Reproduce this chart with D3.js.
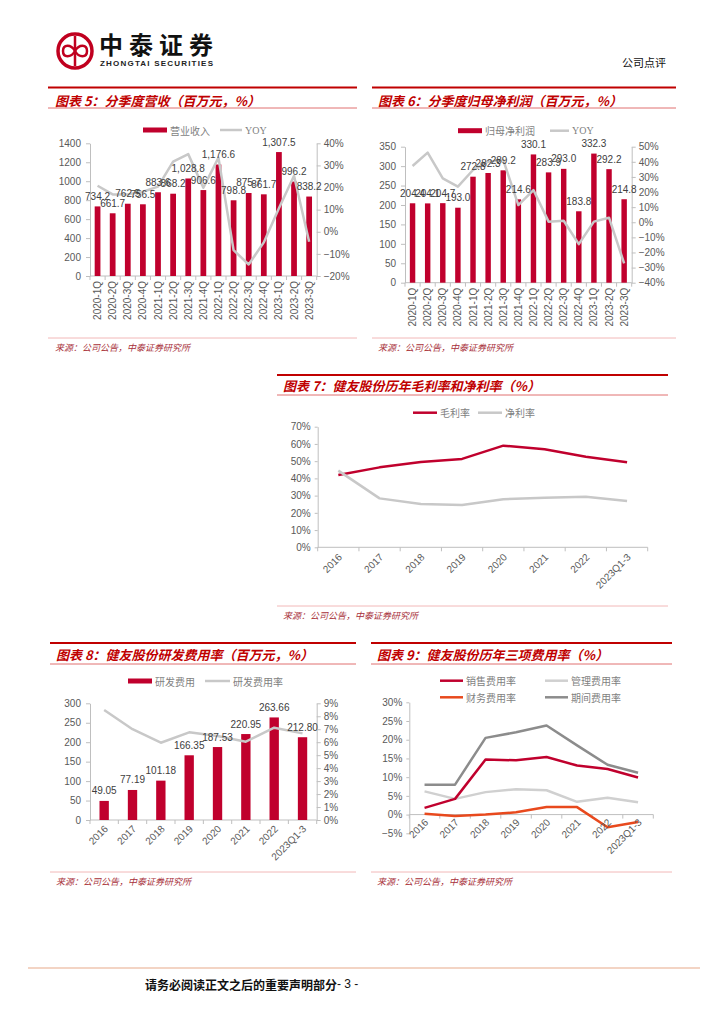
<!DOCTYPE html>
<html><head><meta charset="utf-8">
<script src="https://cdn.jsdelivr.net/npm/d3@7"></script>
<style>body{margin:0;background:#fff}svg{display:block}</style>
</head><body>
<svg id="page" width="724" height="1024"></svg>
<script>
// ---------------- data ----------------
const quarters = ["2020-1Q","2020-2Q","2020-3Q","2020-4Q","2021-1Q","2021-2Q","2021-3Q","2021-4Q","2022-1Q","2022-2Q","2022-3Q","2022-4Q","2023-1Q","2023-2Q","2023-3Q"];
const revenue = [734.2, 661.7, 762.5, 756.5, 883.6, 868.2, 1028.8, 906.6, 1176.6, 798.8, 875.7, 861.7, 1307.5, 996.2, 838.2];
const revenueYoy = [0.208, 0.169, 0.169, 0.181, 0.204, 0.317, 0.351, 0.199, 0.335, -0.083, -0.148, -0.048, 0.106, 0.253, -0.045];
const netProfit = [204.4, 204.1, 204.7, 193.0, 272.8, 282.3, 289.2, 214.6, 330.1, 283.9, 293.0, 183.8, 332.3, 292.2, 214.8];
const netProfitYoy = [0.372, 0.461, 0.291, 0.236, 0.346, 0.401, 0.412, 0.114, 0.213, 0.004, 0.010, -0.145, 0.004, 0.030, -0.272];
const years = ["2016","2017","2018","2019","2020","2021","2022","2023Q1-3"];
const grossMargin = [0.420, 0.464, 0.495, 0.513, 0.590, 0.569, 0.526, 0.493];
const netMargin = [0.445, 0.284, 0.251, 0.246, 0.279, 0.288, 0.294, 0.269];
const rdExpense = [49.05, 77.19, 101.18, 166.35, 187.53, 220.95, 263.66, 212.80];
const rdRate = [0.0848, 0.0700, 0.0596, 0.0676, 0.0648, 0.0604, 0.0712, 0.0668];
const sellingRate = [0.018, 0.042, 0.147, 0.145, 0.154, 0.131, 0.122, 0.099];
const adminRate = [0.062, 0.042, 0.060, 0.068, 0.065, 0.034, 0.045, 0.033];
const financeRate = [0.002, -0.004, 0.000, 0.006, 0.020, 0.020, -0.034, -0.020];
const periodRate = [0.080, 0.080, 0.205, 0.220, 0.238, 0.185, 0.133, 0.112];

// ---------------- styles ----------------
const RED = "#C0002D", TITLE_RED = "#C00000", GRAY = "#C8C8C8", DGRAY = "#8C8C8C", ORANGE = "#E8491D";
const AXIS = "#BFBFBF", TXT = "#595959";
const NUMFONT = "'Liberation Sans', Arial, sans-serif";
const CJK = "'Noto Sans CJK SC', sans-serif";
const svg = d3.select("#page");

function txt(g, x, y, s, o = {}) {
  return g.append("text").attr("x", x).attr("y", y).text(s)
    .attr("dominant-baseline", "central")
    .attr("font-family", o.family || CJK)
    .attr("font-size", o.size || 10)
    .attr("font-weight", o.weight || "normal")
    .attr("font-style", o.style || "normal")
    .attr("fill", o.fill || TXT)
    .attr("text-anchor", o.anchor || "start");
}

function frame(p) {
  svg.append("line").attr("x1", p.lx0).attr("x2", p.lx1).attr("y1", p.top).attr("y2", p.top)
    .attr("stroke", TITLE_RED).attr("stroke-width", 2);
  txt(svg, p.tx, p.titleY, p.title, {size: 13, weight: "bold", style: "italic", fill: TITLE_RED});
  svg.append("line").attr("x1", p.lx0).attr("x2", p.lx1).attr("y1", p.under).attr("y2", p.under)
    .attr("stroke", "#E07070").attr("stroke-width", 1);
  svg.append("line").attr("x1", p.lx0).attr("x2", p.lx1).attr("y1", p.srcY - 9).attr("y2", p.srcY - 9)
    .attr("stroke", "#F2B8B8").attr("stroke-width", 1);
  txt(svg, p.tx, p.srcY, "来源：公司公告，中泰证券研究所", {size: 9, style: "italic", fill: "#A8303A"});
}

function styleAxis(g) {
  g.selectAll(".domain").attr("stroke", AXIS);
  g.selectAll(".tick line").attr("stroke", AXIS);
  g.selectAll(".tick text").attr("fill", TXT).attr("font-family", NUMFONT).attr("font-size", 10);
}

function legendRect(x, y, label) {
  svg.append("rect").attr("x", x).attr("y", y - 2.5).attr("width", 24).attr("height", 5).attr("fill", RED);
  txt(svg, x + 27, y, label, {size: 10, fill: "#7F7F7F"});
}
function legendLine(x, y, color, label, w = 23) {
  svg.append("line").attr("x1", x).attr("x2", x + w).attr("y1", y).attr("y2", y)
    .attr("stroke", color).attr("stroke-width", 2.5);
  txt(svg, x + w + 3, y, label, {size: 10, fill: "#7F7F7F", family: label === "YOY" ? "'Liberation Serif', serif" : CJK});
}

function barLine(c) {
  const g = svg.append("g");
  const xb = d3.scaleBand().domain(c.cats).range([c.x0, c.x1]).padding(0);
  const yL = d3.scaleLinear().domain([0, c.leftMax]).range([c.yBot, c.yTop]);
  const yR = d3.scaleLinear().domain([c.rMin, c.rMax]).range([c.yBot, c.yTop]);
  const bw = xb.bandwidth() * c.barFrac;
  const cx = d => xb(d) + xb.bandwidth() / 2;

  const aL = g.append("g").attr("transform", `translate(${c.x0},0)`)
    .call(d3.axisLeft(yL).tickValues(d3.range(0, c.leftMax + 1e-9, c.leftStep)).tickFormat(d3.format("d")).tickSize(4).tickPadding(5).tickSizeOuter(0));
  styleAxis(aL);
  const aR = g.append("g").attr("transform", `translate(${c.x1},0)`)
    .call(d3.axisRight(yR).tickValues(d3.range(c.rMin, c.rMax + 1e-9, c.rStep)).tickFormat(c.rFmt).tickSize(4).tickPadding(3).tickSizeOuter(0));
  styleAxis(aR);
  // bottom axis
  g.append("line").attr("x1", c.x0).attr("x2", c.x1).attr("y1", c.yBot).attr("y2", c.yBot).attr("stroke", AXIS);
  g.selectAll(".bt").data(c.cats.concat(["__end"])).enter().append("line")
    .attr("x1", (d, i) => i < c.cats.length ? xb(d) : c.x1)
    .attr("x2", (d, i) => i < c.cats.length ? xb(d) : c.x1)
    .attr("y1", c.yBot).attr("y2", c.yBot + 4).attr("stroke", AXIS);

  g.selectAll(".bar").data(c.bars).enter().append("rect")
    .attr("x", (d, i) => cx(c.cats[i]) - bw / 2).attr("width", bw)
    .attr("y", d => yL(d)).attr("height", d => c.yBot - yL(d)).attr("fill", RED);

  g.append("path").datum(c.line)
    .attr("d", d3.line().x((d, i) => cx(c.cats[i])).y(d => yR(d)))
    .attr("fill", "none").attr("stroke", GRAY).attr("stroke-width", 2.5).attr("stroke-linejoin", "round");

  c.bars.forEach((v, i) => {
    txt(g, cx(c.cats[i]), yL(v) - 10, d3.format(c.barFmt)(v), {family: NUMFONT, size: 10, fill: "#404040", anchor: "middle"});
  });

  c.cats.forEach(d => {
    const t = txt(g, 0, 0, d, {family: NUMFONT, size: 10, anchor: "end"});
    if (c.rot === -90) t.attr("transform", `translate(${cx(d)},${c.yBot + 5}) rotate(-90)`);
    else t.attr("transform", `translate(${cx(d) + 2},${c.yBot + 7}) rotate(-45)`);
  });
}

function lineChart(c) {
  const g = svg.append("g");
  const xb = d3.scaleBand().domain(c.cats).range([c.x0, c.x1]).padding(0);
  const y = d3.scaleLinear().domain([c.yMin, c.yMax]).range([c.yBot, c.yTop]);
  const cx = d => xb(d) + xb.bandwidth() / 2;
  const aY = g.append("g").attr("transform", `translate(${c.x0},0)`)
    .call(d3.axisLeft(y).tickValues(d3.range(c.yMin, c.yMax + 1e-9, c.yStep)).tickFormat(d3.format(".0%")).tickSize(3).tickPadding(4).tickSizeOuter(0));
  styleAxis(aY);
  const y0 = y(0);
  g.append("line").attr("x1", c.x0).attr("x2", c.x1).attr("y1", y0).attr("y2", y0).attr("stroke", AXIS);
  g.selectAll(".bt").data(c.cats.concat(["__end"])).enter().append("line")
    .attr("x1", (d, i) => i < c.cats.length ? xb(d) : c.x1)
    .attr("x2", (d, i) => i < c.cats.length ? xb(d) : c.x1)
    .attr("y1", y0).attr("y2", y0 + 4).attr("stroke", AXIS);
  c.series.forEach(s => {
    g.append("path").datum(s.values)
      .attr("d", d3.line().x((d, i) => cx(c.cats[i])).y(d => y(d)))
      .attr("fill", "none").attr("stroke", s.color).attr("stroke-width", 2.5).attr("stroke-linejoin", "round");
  });
  c.cats.forEach(d => {
    txt(g, 0, 0, d, {family: NUMFONT, size: 10, anchor: "end"})
      .attr("transform", `translate(${cx(d) + 2},${y0 + c.labOff}) rotate(-45)`);
  });
}

// ---------------- header / footer ----------------
(function header() {
  const g = svg.append("g");
  g.append("circle").attr("cx", 75).attr("cy", 51).attr("r", 17).attr("fill", "none").attr("stroke", "#C0001F").attr("stroke-width", 3.5);
  g.append("line").attr("x1", 75).attr("x2", 75).attr("y1", 36).attr("y2", 66).attr("stroke", "#C0001F").attr("stroke-width", 2.5);
  g.append("path").attr("d", "M75,51 C71,44 63,44 63,51 C63,58 71,58 75,51 C79,44 87,44 87,51 C87,58 79,58 75,51")
    .attr("fill", "none").attr("stroke", "#C0001F").attr("stroke-width", 2.5);
  txt(g, 99, 43, "中泰证券", {size: 24, weight: "bold", fill: "#111"}).attr("textLength", 114);
  txt(g, 100, 63.5, "ZHONGTAI SECURITIES", {family: NUMFONT, size: 8, weight: "bold", fill: "#222"}).attr("textLength", 113);
  txt(g, 622, 62, "公司点评", {size: 11, fill: "#111"});
  svg.append("line").attr("x1", 28).attr("x2", 700).attr("y1", 968).attr("y2", 968).attr("stroke", "#EFC6B0").attr("stroke-width", 1.5);
  txt(svg, 145, 984, "请务必阅读正文之后的重要声明部分", {size: 12, weight: "bold", fill: "#111"});
  txt(svg, 337, 984, "- 3 -", {family: NUMFONT, size: 12, fill: "#111"});
})();

// ---------------- chart 5 ----------------
frame({lx0: 48, lx1: 357, top: 87.5, titleY: 100, under: 108, tx: 55, srcY: 347, title: "图表 5：分季度营收（百万元，%）"});
legendRect(143, 130, "营业收入");
legendLine(220, 130, GRAY, "YOY", 22);
barLine({cats: quarters, bars: revenue, line: revenueYoy, x0: 90, x1: 316.7, yTop: 143.3, yBot: 276,
  leftMax: 1400, leftStep: 200, rMin: -0.2, rMax: 0.4, rStep: 0.1, rFmt: d3.format(".0%"),
  barFmt: ",.1f", barFrac: 0.38, rot: -90});

// ---------------- chart 6 ----------------
frame({lx0: 372, lx1: 676, top: 87.5, titleY: 100, under: 108, tx: 378, srcY: 347, title: "图表 6：分季度归母净利润（百万元，%）"});
legendRect(458, 130.7, "归母净利润");
legendLine(550, 130.7, GRAY, "YOY", 19);
barLine({cats: quarters, bars: netProfit, line: netProfitYoy, x0: 405, x1: 631.7, yTop: 146.7, yBot: 282.7,
  leftMax: 350, leftStep: 50, rMin: -0.4, rMax: 0.5, rStep: 0.1, rFmt: d3.format(".0%"),
  barFmt: ",.1f", barFrac: 0.36, rot: -90});

// ---------------- chart 7 ----------------
frame({lx0: 277, lx1: 668, top: 375, titleY: 385.5, under: 395, tx: 283, srcY: 615, title: "图表 7：健友股份历年毛利率和净利率（%）"});
legendLine(413, 412.7, RED, "毛利率", 24);
legendLine(478, 412.7, GRAY, "净利率", 24);
lineChart({cats: years, x0: 317.7, x1: 647.7, yTop: 426.7, yBot: 547.3, yMin: 0, yMax: 0.7, yStep: 0.1, labOff: 8,
  series: [{values: grossMargin, color: RED}, {values: netMargin, color: GRAY}]});

// ---------------- chart 8 ----------------
frame({lx0: 50, lx1: 356, top: 643, titleY: 654, under: 664, tx: 56, srcY: 881, title: "图表 8：健友股份研发费用率（百万元，%）"});
legendRect(128, 681, "研发费用");
legendLine(205, 681, GRAY, "研发费用率", 25);
barLine({cats: years, bars: rdExpense, line: rdRate, x0: 90, x1: 316.7, yTop: 703.3, yBot: 820,
  leftMax: 300, leftStep: 50, rMin: 0, rMax: 0.09, rStep: 0.01, rFmt: d3.format(".0%"),
  barFmt: ".2f", barFrac: 0.33, rot: -45});

// ---------------- chart 9 ----------------
frame({lx0: 371, lx1: 672, top: 643, titleY: 654, under: 664, tx: 377, srcY: 881, title: "图表 9：健友股份历年三项费用率（%）"});
legendLine(440, 680.7, RED, "销售费用率", 23);
legendLine(545, 680.7, "#D0D0D0", "管理费用率", 23);
legendLine(440, 697.3, ORANGE, "财务费用率", 23);
legendLine(545, 697.3, DGRAY, "期间费用率", 23);
lineChart({cats: years, x0: 409.3, x1: 653.3, yTop: 702.3, yBot: 833.3, yMin: -0.05, yMax: 0.3, yStep: 0.05, labOff: 6,
  series: [{values: adminRate, color: "#D0D0D0"}, {values: financeRate, color: ORANGE},
           {values: periodRate, color: DGRAY}, {values: sellingRate, color: RED}]});
</script>
</body></html>
